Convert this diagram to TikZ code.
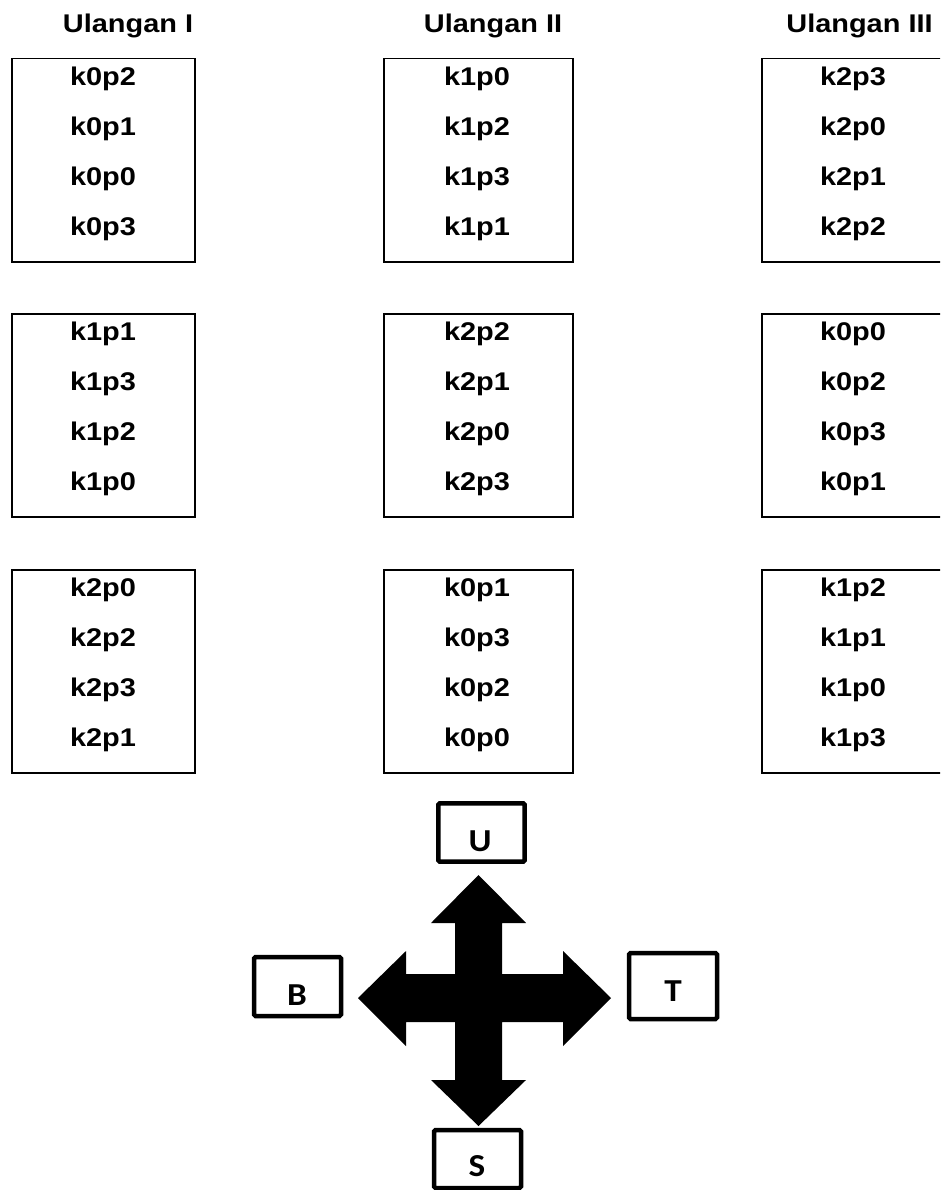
\documentclass[tikz,border=0pt]{standalone}
\usepackage{fontspec}
\newfontfamily\arialb[FakeStretch=1.13]{Liberation Sans Bold}
\newfontfamily\calb[FakeStretch=1.1]{Carlito Bold}
\begin{document}
\begin{tikzpicture}[x=1pt,y=-1pt,
  grp/.style={draw,line width=1.5pt,inner sep=0pt,anchor=north west},
  lbl/.style={anchor=base,inner sep=0pt,font=\arialb\fontsize{25.6}{28}\selectfont},
  dirbox/.style={draw,line width=4.5pt,rounded corners=1.5pt,inner sep=0pt},
  dirlbl/.style={anchor=base,inner sep=0pt,font=\calb\fontsize{32}{36}\selectfont}]
\useasboundingbox (0,0) rectangle (940,1190);
\begin{scope}
\clip (0,0) rectangle (940,1190);
% headers
\node[lbl] (h1) at (128,33) {Ulangan I};
\node[lbl] (h2) at (493,33) {Ulangan II};
\node[lbl] (h3) at (859.5,33) {Ulangan III};
% boxes
\foreach \r/\t in {1/58,2/313,3/569}{
  \node[grp,minimum width=183pt,minimum height=203pt] (b1\r) at (11,\t) {};
  \node[grp,minimum width=189pt,minimum height=203pt] (b2\r) at (383,\t) {};
  \node[grp,minimum width=184pt,minimum height=203pt] (b3\r) at (761,\t) {};
}
% texts
\foreach \c/\x in {1/103,2/477,3/853}{
  \foreach \r/\t in {1/58,2/313,3/569}{
    \coordinate (o\c\r) at (\x,\t);
  }
}
\foreach \c/\r/\a/\b/\cc/\d in {
  1/1/k0p2/k0p1/k0p0/k0p3,
  2/1/k1p0/k1p2/k1p3/k1p1,
  3/1/k2p3/k2p0/k2p1/k2p2,
  1/2/k1p1/k1p3/k1p2/k1p0,
  2/2/k2p2/k2p1/k2p0/k2p3,
  3/2/k0p0/k0p2/k0p3/k0p1,
  1/3/k2p0/k2p2/k2p3/k2p1,
  2/3/k0p1/k0p3/k0p2/k0p0,
  3/3/k1p2/k1p1/k1p0/k1p3}{
  \node[lbl] (t\c\r a) at ([yshift=-27.5pt]o\c\r) {\a};
  \node[lbl] (t\c\r b) at ([yshift=-77.5pt]o\c\r) {\b};
  \node[lbl] (t\c\r c) at ([yshift=-127.5pt]o\c\r) {\cc};
  \node[lbl] (t\c\r d) at ([yshift=-177.5pt]o\c\r) {\d};
}
\end{scope}
% compass boxes
\draw[dirbox] (438.3,803.3) rectangle (524.7,861.7);
\draw[dirbox] (254,957) rectangle (341,1016);
\draw[dirbox] (629,953) rectangle (717,1019);
\draw[dirbox] (434,1130) rectangle (521,1188);
\node[dirlbl] (u) at (480,851) {U};
\node[dirlbl] (b) at (297,1005) {B};
\node[dirlbl] (t) at (673,1001) {T};
\node[dirlbl] (s) at (477,1176) {S};
% four-way arrow
\fill (478.5,875) -- (526,923) -- (502,923) -- (502,974) -- (563,974) -- (563,951)
  -- (611,998) -- (563,1046) -- (563,1022) -- (502,1022) -- (502,1080) -- (526,1080)
  -- (478.5,1126) -- (431,1080) -- (455,1080) -- (455,1022) -- (406,1022) -- (406,1046)
  -- (358,998) -- (406,951) -- (406,974) -- (455,974) -- (455,923) -- (431,923) -- cycle;
\end{tikzpicture}
\end{document}
